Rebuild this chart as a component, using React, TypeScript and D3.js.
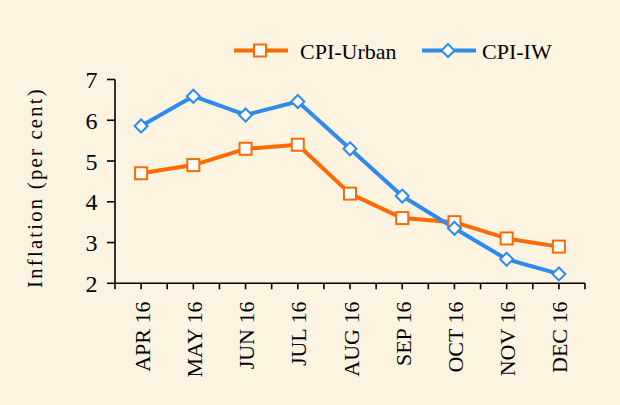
import React from "react";
import * as d3 from "d3";

const months = ["APR 16", "MAY 16", "JUN 16", "JUL 16", "AUG 16", "SEP 16", "OCT 16", "NOV 16", "DEC 16"];
const cpiUrban = [4.7, 4.9, 5.3, 5.4, 4.2, 3.6, 3.5, 3.1, 2.9];
const cpiIW = [5.86, 6.59, 6.13, 6.46, 5.3, 4.14, 3.35, 2.59, 2.23];
const yTicks = [2, 3, 4, 5, 6, 7];
const seriesNames = ["CPI-Urban", "CPI-IW"];

const ORANGE = "#FF6A00";
const BLUE = "#2E8BEA";
const BG = "#FCF3E0";
const FONT = "'Liberation Serif', 'Times New Roman', serif";

export default function App() {
  const W = 620, H = 405;
  const x0 = 115, x1 = 585, yTop = 79.5, yBot = 283.3;
  const x = d3.scaleBand<string>().domain(months).range([x0, x1]).padding(0);
  const bw = x.bandwidth();
  const cx = (m: string) => (x(m) as number) + bw / 2;
  const y = d3.scaleLinear().domain([2, 7]).range([yBot, yTop]);

  const line = d3.line<number>().x((_, i) => cx(months[i])).y((d) => y(d));

  const xTickPos: number[] = [];
  months.forEach((m) => {
    xTickPos.push(x(m) as number);
    xTickPos.push(cx(m));
  });
  xTickPos.push(x1);

  const square = (px: number, py: number, k: string) => (
    <rect key={k} x={px - 6} y={py - 6} width={12} height={12} fill="#fff" stroke={ORANGE} strokeWidth={2} />
  );
  const diamond = (px: number, py: number, k: string) => (
    <path key={k} d={`M${px},${py - 6.5}L${px + 6.5},${py}L${px},${py + 6.5}L${px - 6.5},${py}Z`} fill="#fff" stroke={BLUE} strokeWidth={2} />
  );

  return (
    <svg width={W} height={H} style={{ position: "absolute", left: 0, top: 0, display: "block" }} fontFamily={FONT}>
      <rect x={0} y={0} width={W} height={H} fill={BG} />

      {/* legend */}
      <g>
        <line x1={234} x2={288} y1={50.5} y2={50.5} stroke={ORANGE} strokeWidth={4} />
        {square(260, 50.5, "lg1")}
        <text x={300} y={59} fontSize={22} fill="#000">{seriesNames[0]}</text>
        <line x1={422} x2={476} y1={50.5} y2={50.5} stroke={BLUE} strokeWidth={4} />
        {diamond(448, 50.5, "lg2")}
        <text x={482} y={59} fontSize={22} fill="#000">{seriesNames[1]}</text>
      </g>

      {/* y axis */}
      <line x1={x0} x2={x0} y1={yTop} y2={yBot} stroke="#000" strokeWidth={1.6} />
      {yTicks.map((t) => (
        <g key={t}>
          <line x1={x0 - 8} x2={x0} y1={y(t)} y2={y(t)} stroke="#000" strokeWidth={1.6} />
          <text x={97.5} y={y(t) + 8.5} fontSize={24} textAnchor="end" fill="#000">{t}</text>
        </g>
      ))}
      <text
        transform={`translate(42,187.5) rotate(-90)`}
        fontSize={20.5}
        letterSpacing={2.3}
        textAnchor="middle"
        fill="#000"
      >
        Inflation (per cent)
      </text>

      {/* x axis */}
      <line x1={x0} x2={x1} y1={yBot} y2={yBot} stroke="#000" strokeWidth={1.6} />
      {xTickPos.map((p, i) => (
        <line key={i} x1={p} x2={p} y1={yBot} y2={yBot + 6} stroke="#000" strokeWidth={1.6} />
      ))}
      {months.map((m) => (
        <text
          key={m}
          transform={`translate(${cx(m) + 8.5},301.5) rotate(-90)`}
          fontSize={22}
          textAnchor="end"
          fill="#000"
        >
          {m}
        </text>
      ))}

      {/* lines */}
      <path d={line(cpiUrban) as string} fill="none" stroke={ORANGE} strokeWidth={4} strokeLinejoin="round" />
      <path d={line(cpiIW) as string} fill="none" stroke={BLUE} strokeWidth={4} strokeLinejoin="round" />
      {cpiUrban.map((v, i) => square(cx(months[i]), y(v), "u" + i))}
      {cpiIW.map((v, i) => diamond(cx(months[i]), y(v), "w" + i))}
    </svg>
  );
}
